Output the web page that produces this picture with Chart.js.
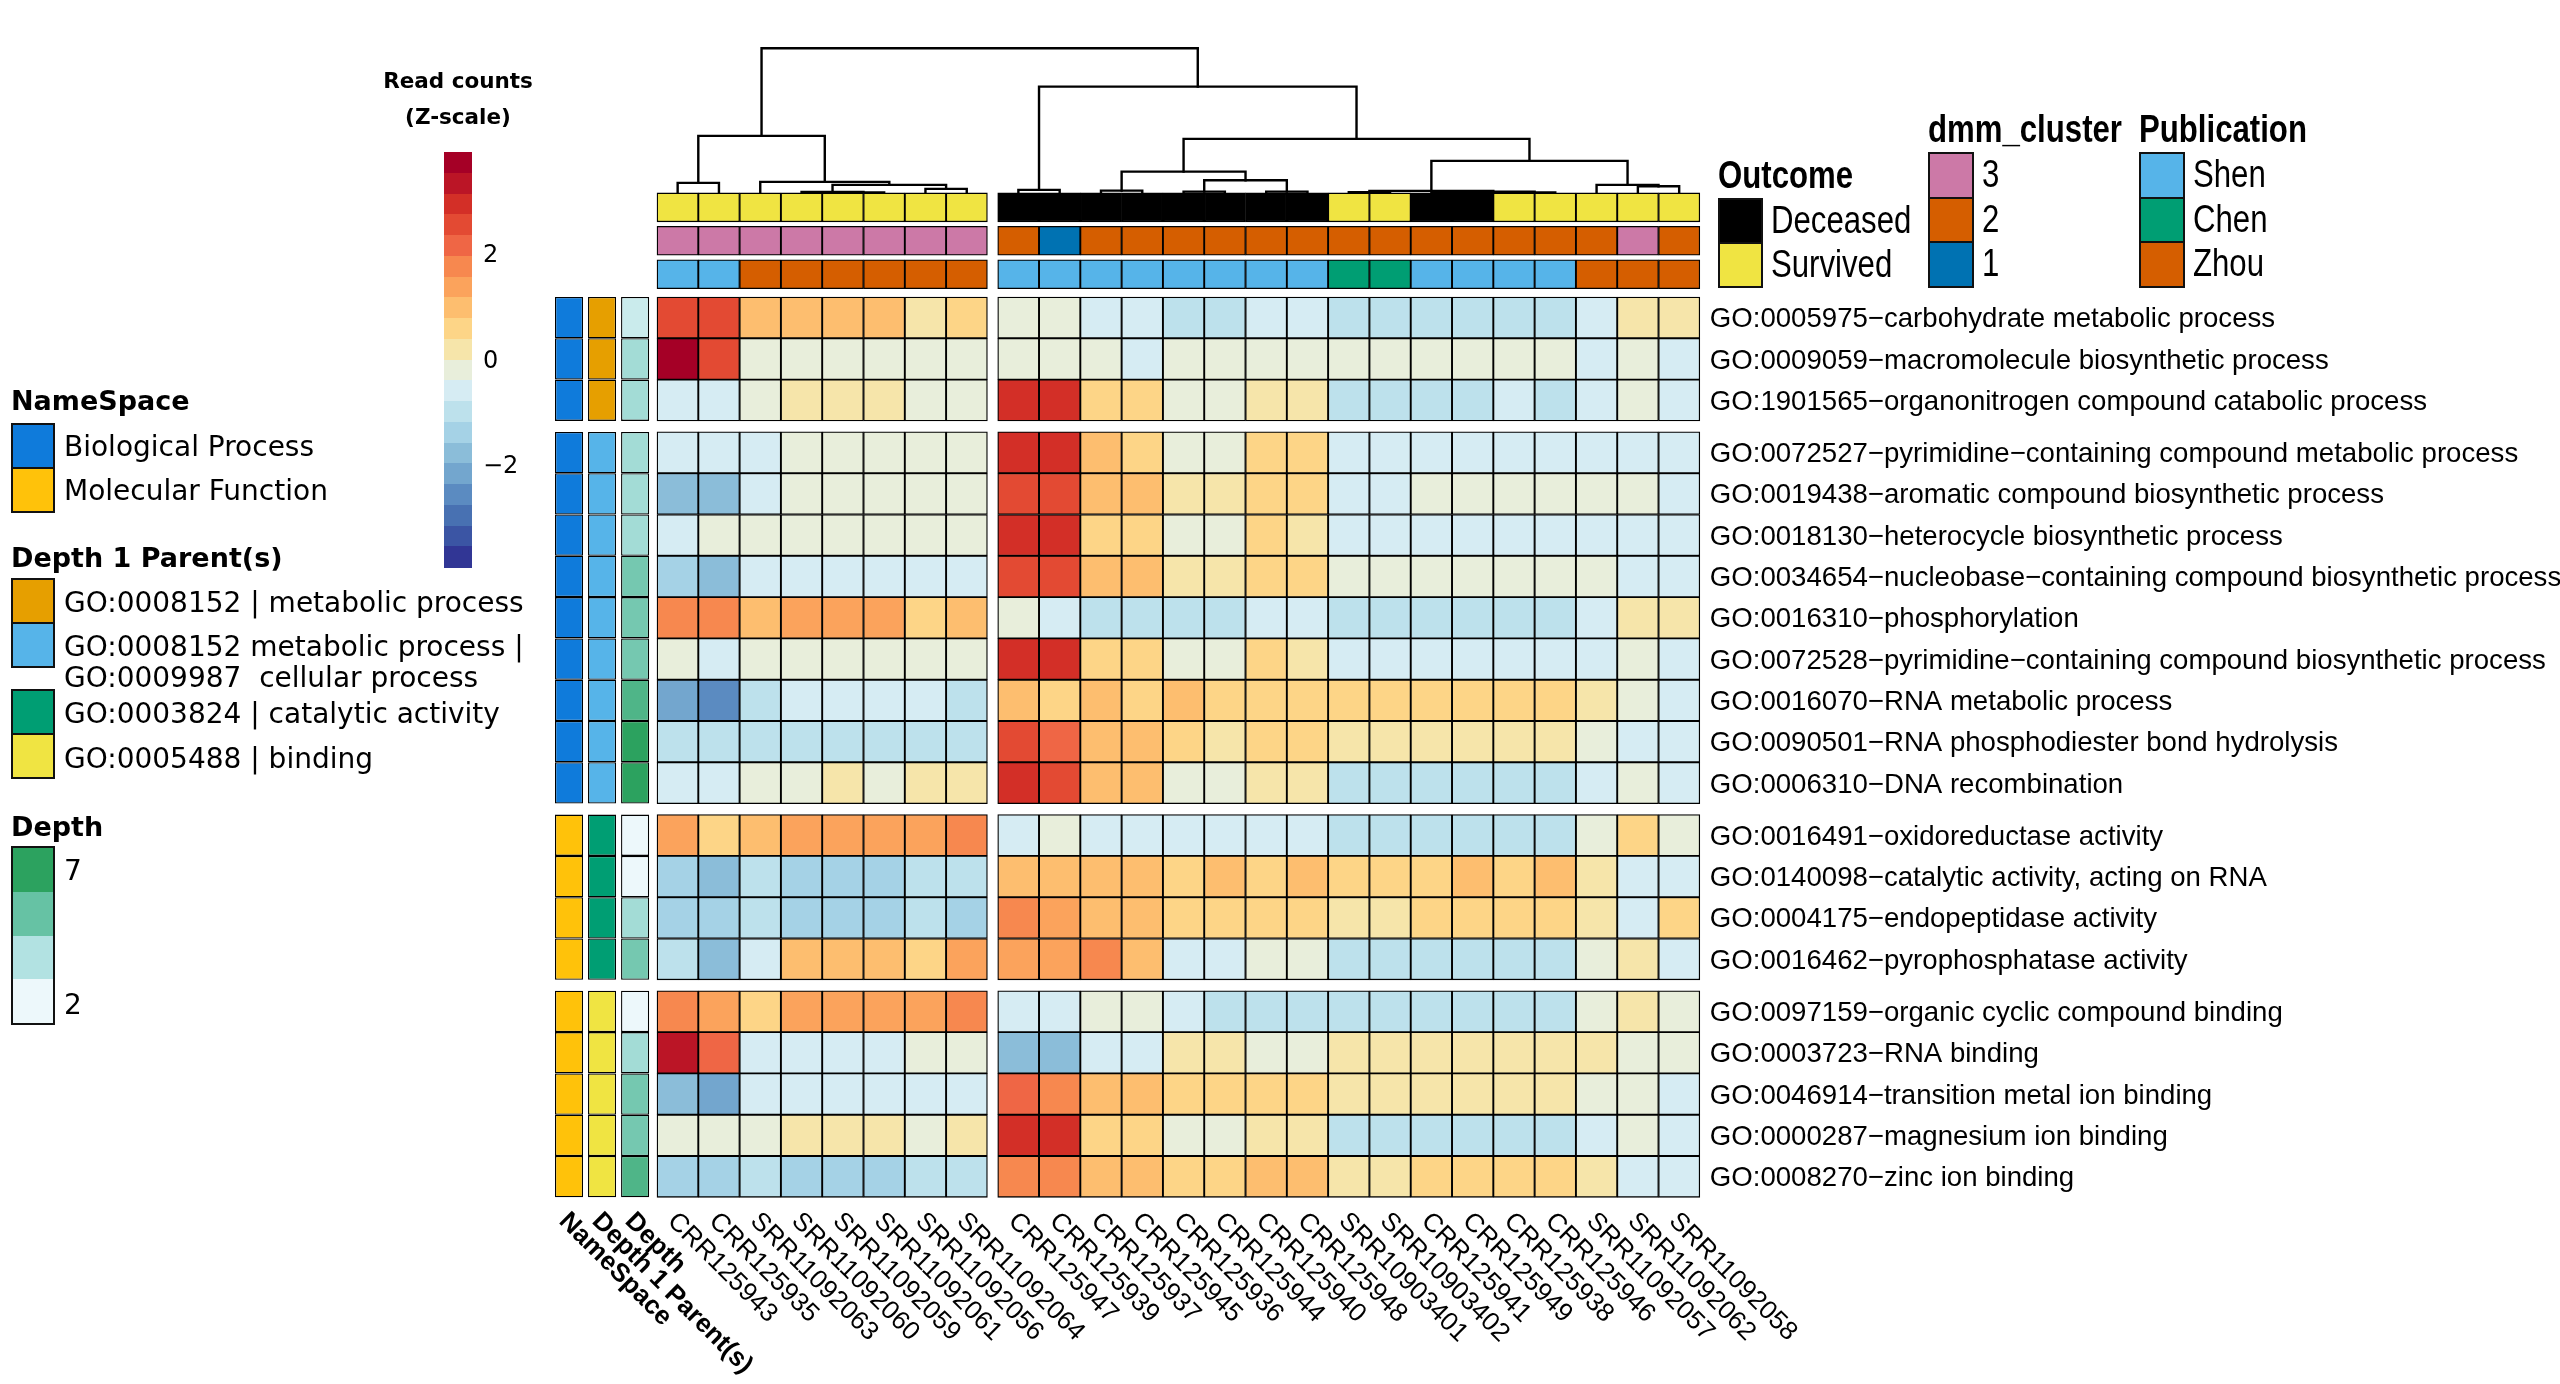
<!DOCTYPE html>
<html><head><meta charset="utf-8">
<script src="https://cdn.jsdelivr.net/npm/chart.js@4.4.1/dist/chart.umd.min.js"></script>
<style>
html,body{margin:0;padding:0;background:#fff;}
#wrap{position:relative;width:2560px;height:1384px;overflow:hidden;background:#fff;}
#c{position:absolute;left:0;top:0;}
.lg{position:absolute;white-space:pre;color:#000;line-height:1;}
.box{position:absolute;box-sizing:border-box;border:2px solid #111;}
</style></head>
<body>
<div id="wrap"><canvas id="c" width="2560" height="1384"></canvas></div>
<script>
// ---------------- DATA ----------------
const samples = ['CRR125943','CRR125935','SRR11092063','SRR11092060','SRR11092059','SRR11092061','SRR11092056','SRR11092064',
  'CRR125947','CRR125939','CRR125937','CRR125945','CRR125936','CRR125944','CRR125940','CRR125948','SRR10903401','SRR10903402',
  'CRR125941','CRR125949','CRR125938','CRR125946','SRR11092057','SRR11092062','SRR11092058'];
const colBlock = [0,0,0,0,0,0,0,0, 1,1,1,1,1,1,1,1,1,1,1,1,1,1,1,1,1];

const goTerms = [
  'GO:0005975\u2212carbohydrate metabolic process',
  'GO:0009059\u2212macromolecule biosynthetic process',
  'GO:1901565\u2212organonitrogen compound catabolic process',
  'GO:0072527\u2212pyrimidine\u2212containing compound metabolic process',
  'GO:0019438\u2212aromatic compound biosynthetic process',
  'GO:0018130\u2212heterocycle biosynthetic process',
  'GO:0034654\u2212nucleobase\u2212containing compound biosynthetic process',
  'GO:0016310\u2212phosphorylation',
  'GO:0072528\u2212pyrimidine\u2212containing compound biosynthetic process',
  'GO:0016070\u2212RNA metabolic process',
  'GO:0090501\u2212RNA phosphodiester bond hydrolysis',
  'GO:0006310\u2212DNA recombination',
  'GO:0016491\u2212oxidoreductase activity',
  'GO:0140098\u2212catalytic activity, acting on RNA',
  'GO:0004175\u2212endopeptidase activity',
  'GO:0016462\u2212pyrophosphatase activity',
  'GO:0097159\u2212organic cyclic compound binding',
  'GO:0003723\u2212RNA binding',
  'GO:0046914\u2212transition metal ion binding',
  'GO:0000287\u2212magnesium ion binding',
  'GO:0008270\u2212zinc ion binding'];
const rowGroup = [0,0,0, 1,1,1,1,1,1,1,1,1, 2,2,2,2, 3,3,3,3,3];

// Z-scaled read counts, one row per GO term, one value per sample
const zScores = [
  [2.5,2.5,1.0,1.0,1.0,1.0,0.2,0.6, -0.2,-0.2,-0.6,-0.6,-1.0,-1.0,-0.6,-0.6,-1.0,-1.0,-1.0,-1.0,-1.0,-1.0,-0.6,0.2,0.2],
  [3.7,2.5,-0.2,-0.2,-0.2,-0.2,-0.2,-0.2, -0.2,-0.2,-0.2,-0.6,-0.2,-0.2,-0.2,-0.2,-0.2,-0.2,-0.2,-0.2,-0.2,-0.2,-0.6,-0.2,-0.6],
  [-0.6,-0.6,-0.2,0.2,0.2,0.2,-0.2,-0.2, 2.9,2.9,0.6,0.6,-0.2,-0.2,0.2,0.2,-1.0,-1.0,-1.0,-1.0,-0.6,-1.0,-0.6,-0.2,-0.6],
  [-0.6,-0.6,-0.6,-0.2,-0.2,-0.2,-0.2,-0.2, 2.9,2.9,1.0,0.6,-0.2,-0.2,0.6,0.6,-0.6,-0.6,-0.6,-0.6,-0.6,-0.6,-0.6,-0.6,-0.6],
  [-1.8,-1.8,-0.6,-0.2,-0.2,-0.2,-0.2,-0.2, 2.5,2.5,1.0,1.0,0.2,0.2,0.6,0.6,-0.6,-0.6,-0.2,-0.2,-0.2,-0.2,-0.2,-0.2,-0.6],
  [-0.6,-0.2,-0.2,-0.2,-0.2,-0.2,-0.2,-0.2, 2.9,2.9,0.6,0.6,-0.2,-0.2,0.6,0.2,-0.6,-0.6,-0.6,-0.6,-0.6,-0.6,-0.6,-0.6,-0.6],
  [-1.4,-1.8,-0.6,-0.6,-0.6,-0.6,-0.6,-0.6, 2.5,2.5,1.0,1.0,0.2,0.2,0.6,0.6,-0.2,-0.2,-0.2,-0.2,-0.2,-0.2,-0.2,-0.6,-0.6],
  [1.8,1.8,1.0,1.4,1.4,1.4,0.6,1.0, -0.2,-0.6,-1.0,-1.0,-1.0,-1.0,-0.6,-0.6,-1.0,-1.0,-1.0,-1.0,-1.0,-1.0,-0.6,0.2,0.2],
  [-0.2,-0.6,-0.2,-0.2,-0.2,-0.2,-0.2,-0.2, 2.9,2.9,0.6,0.6,-0.2,-0.2,0.6,0.2,-0.6,-0.6,-0.6,-0.6,-0.6,-0.6,-0.6,-0.2,-0.6],
  [-2.2,-2.6,-1.0,-0.6,-0.6,-0.6,-0.6,-1.0, 1.0,0.6,1.0,0.6,1.0,0.6,0.6,0.6,0.6,0.6,0.6,0.6,0.6,0.6,0.2,-0.2,-0.6],
  [-1.0,-1.0,-1.0,-1.0,-1.0,-1.0,-1.0,-1.0, 2.5,2.2,1.0,1.0,0.6,0.2,0.6,0.6,0.2,0.2,0.2,0.2,0.2,0.2,-0.2,-0.6,-0.6],
  [-0.6,-0.6,-0.2,-0.2,0.2,-0.2,0.2,0.2, 2.9,2.5,1.0,1.0,-0.2,-0.2,0.2,0.2,-1.0,-1.0,-1.0,-1.0,-1.0,-1.0,-0.6,-0.2,-0.6],
  [1.4,0.6,1.0,1.4,1.4,1.4,1.4,1.8, -0.6,-0.2,-0.6,-0.6,-0.6,-0.6,-0.6,-0.6,-1.0,-1.0,-1.0,-1.0,-1.0,-1.0,-0.2,0.6,-0.2],
  [-1.4,-1.8,-1.0,-1.4,-1.4,-1.4,-1.0,-1.0, 1.0,1.0,1.0,1.0,0.6,1.0,0.6,1.0,0.6,0.6,0.6,1.0,0.6,1.0,0.2,-0.6,-0.6],
  [-1.4,-1.4,-1.0,-1.4,-1.4,-1.4,-1.0,-1.4, 1.8,1.4,1.0,1.0,0.6,0.6,0.6,0.6,0.2,0.2,0.6,0.6,0.6,0.6,0.2,-0.6,0.6],
  [-1.0,-1.8,-0.6,1.0,1.0,1.0,0.6,1.4, 1.4,1.4,1.8,1.0,-0.6,-0.6,-0.2,-0.2,-1.0,-1.0,-1.0,-1.0,-1.0,-1.0,-0.2,0.2,-0.6],
  [1.8,1.4,0.6,1.4,1.4,1.4,1.4,1.8, -0.6,-0.6,-0.2,-0.2,-0.6,-1.0,-1.0,-1.0,-1.0,-1.0,-1.0,-1.0,-1.0,-1.0,-0.2,0.2,-0.2],
  [3.3,2.2,-0.6,-0.6,-0.6,-0.6,-0.2,-0.2, -1.8,-1.8,-0.6,-0.6,0.2,0.2,-0.2,-0.2,0.2,0.2,0.2,0.2,0.2,0.2,0.2,-0.2,-0.2],
  [-1.8,-2.2,-0.6,-0.6,-0.6,-0.6,-0.6,-0.6, 2.2,1.8,1.0,1.0,0.6,0.6,0.6,0.6,0.2,0.2,0.2,0.2,0.2,0.2,-0.2,-0.2,-0.6],
  [-0.2,-0.2,-0.2,0.2,0.2,0.2,-0.2,0.2, 2.9,2.9,0.6,0.6,-0.2,-0.2,0.2,0.2,-1.0,-1.0,-1.0,-1.0,-1.0,-1.0,-0.6,-0.2,-0.6],
  [-1.4,-1.4,-1.0,-1.4,-1.4,-1.4,-1.0,-1.0, 1.8,1.8,1.0,1.0,0.6,0.6,1.0,1.0,0.2,0.2,0.6,0.6,0.6,0.6,0.2,-0.6,-0.6]
];

// column annotations
const outcome = ['Survived','Survived','Survived','Survived','Survived','Survived','Survived','Survived',
  'Deceased','Deceased','Deceased','Deceased','Deceased','Deceased','Deceased','Deceased','Survived','Survived',
  'Deceased','Deceased','Survived','Survived','Survived','Survived','Survived'];
const dmmCluster = ['3','3','3','3','3','3','3','3', '2','1','2','2','2','2','2','2','2','2','2','2','2','2','2','3','2'];
const publication = ['Shen','Shen','Zhou','Zhou','Zhou','Zhou','Zhou','Zhou',
  'Shen','Shen','Shen','Shen','Shen','Shen','Shen','Shen','Chen','Chen','Shen','Shen','Shen','Shen','Zhou','Zhou','Zhou'];

// row annotations
const nameSpace = ['Biological Process','Biological Process','Biological Process','Biological Process','Biological Process',
  'Biological Process','Biological Process','Biological Process','Biological Process','Biological Process','Biological Process',
  'Biological Process','Molecular Function','Molecular Function','Molecular Function','Molecular Function','Molecular Function',
  'Molecular Function','Molecular Function','Molecular Function','Molecular Function'];
const depth1Parent = ['metabolic','metabolic','metabolic',
  'metabolic|cellular','metabolic|cellular','metabolic|cellular','metabolic|cellular','metabolic|cellular',
  'metabolic|cellular','metabolic|cellular','metabolic|cellular','metabolic|cellular',
  'catalytic','catalytic','catalytic','catalytic',
  'binding','binding','binding','binding','binding'];
const depth = [3,4,4, 4,4,4,5,5,5,6,7,7, 2,2,4,5, 2,4,5,5,6];

// column dendrogram (hclust style: negative = sample number, positive = earlier merge; then height)
const colMerges = [
  [-5,-6,0.05],[-4,1,0.10],[-7,-8,0.40],[2,3,0.80],[-1,-2,1.00],[-3,4,1.10],[5,6,5.70],
  [-9,-10,0.30],[-11,-12,0.23],[-13,-14,0.13],[-15,-16,0.13],[10,11,1.27],[9,12,2.13],
  [-17,-18,0.07],[-19,-20,0.05],[-21,-22,0.05],[15,16,0.12],[14,17,0.20],[-24,-25,0.67],
  [-23,19,0.80],[18,20,3.20],[13,21,5.40],[8,22,10.63],[7,23,14.47]
];

const zTicks = [2, 0, -2];
const depthTicks = [7, 2];

// ---------------- STYLES / COLOUR MAPS ----------------
const Z_MAX = 3.94;
const zPalette = ['#a50026','#bb1526','#d32f27','#e34a33','#ef6645','#f7884f','#fba35c','#fdbe6f','#fdd587','#f6e5aa',
  '#e8eedb','#d6ecf3','#bde1ec','#a5d2e6','#8bbdd9','#73a6ce','#5b8bc1','#4871b2','#3b55a4','#313695'];
function zColor(z){
  const step = 2 * Z_MAX / zPalette.length;
  let k = Math.floor((Z_MAX - z) / step);
  k = Math.max(0, Math.min(zPalette.length - 1, k));
  return zPalette[k];
}
const outcomeColors = {Deceased:'#000000', Survived:'#f0e442'};
const dmmColors = {'3':'#cc79a7','2':'#d55e00','1':'#0072b2'};
const pubColors = {Shen:'#56b4e9', Chen:'#009e73', Zhou:'#d55e00'};
const nsColors = {'Biological Process':'#0f7bdb','Molecular Function':'#ffc20a'};
const parentColors = {'metabolic':'#e69f00','metabolic|cellular':'#56b4e9','catalytic':'#009e73','binding':'#f0e442'};
const parentLabels = {'metabolic':'GO:0008152 | metabolic process',
  'metabolic|cellular':'GO:0008152 metabolic process |\nGO:0009987  cellular process',
  'catalytic':'GO:0003824 | catalytic activity','binding':'GO:0005488 | binding'};
const depthStops = [[2,[237,248,251]],[3.667,[178,226,226]],[5.333,[102,194,164]],[7,[44,162,95]]];
function depthColor(v){
  for (let i=0;i<depthStops.length-1;i++){
    const [a,ca]=depthStops[i],[b,cb]=depthStops[i+1];
    if (v<=b){ const t=(v-a)/(b-a); const c=ca.map((x,k)=>Math.round(x+(cb[k]-x)*t)); return `rgb(${c[0]},${c[1]},${c[2]})`; }
  }
  return 'rgb(44,162,95)';
}

// ---------------- LAYOUT ----------------
const W = 2560, H = 1384, CELL = 41.3, GRID_LEFT = 657, GRID_TOP = 297;
const COL_GAP = 0.25, ROW_GAP = 11 / CELL;
const colPos = j => j + colBlock[j] * COL_GAP;
const rowTop = i => i + rowGroup[i] * ROW_GAP;
const X_MIN = -(GRID_LEFT + CELL / 2) / CELL, X_MAX = X_MIN + W / CELL;
const Y_MIN = -GRID_TOP / CELL, Y_MAX = Y_MIN + H / CELL;
const TRACK_H = 0.7, TRACK_STEP = 0.81, TRACK_OFF = 0.2;
const DENDRO_PX = 10;
const DENDRO_BASE = GRID_TOP - (TRACK_OFF + 2 * TRACK_STEP + TRACK_H) * CELL;
const YD_MAX = DENDRO_BASE / DENDRO_PX, YD_MIN = YD_MAX - H / DENDRO_PX;

const datasets = [];
const cellStyle = {type:'bar', grouped:false, barPercentage:1, categoryPercentage:1, borderColor:'#000',
  borderWidth:1.3, borderSkipped:false, xAxisID:'x', yAxisID:'y'};

zScores.forEach((row,i) => datasets.push({...cellStyle, label:goTerms[i],
  data: row.map((z,j)=>({x:colPos(j), y:[rowTop(i), rowTop(i)+1]})),
  backgroundColor: row.map(zColor)}));

const colTracks = [
  {name:'Outcome', values:outcome, colors:outcomeColors},
  {name:'dmm_cluster', values:dmmCluster, colors:dmmColors},
  {name:'Publication', values:publication, colors:pubColors}];
colTracks.forEach((t,k) => {
  const bottom = -(TRACK_OFF + (colTracks.length-1-k) * TRACK_STEP);
  datasets.push({...cellStyle, label:t.name,
    data: t.values.map((v,j)=>({x:colPos(j), y:[bottom-TRACK_H, bottom]})),
    backgroundColor: t.values.map(v=>t.colors[v])});
});

const rowTracks = [
  {name:'NameSpace', values:nameSpace, color:v=>nsColors[v]},
  {name:'Depth 1 Parent(s)', values:depth1Parent, color:v=>parentColors[v]},
  {name:'Depth', values:depth, color:depthColor}];
const rowTrackX = k => -0.5 - 0.19 - 0.34 - (rowTracks.length-1-k) * 0.8;
rowTracks.forEach((t,k) => {
  datasets.push({...cellStyle, xAxisID:'xa', barPercentage:0.85, label:t.name,
    data: t.values.map((v,i)=>({x:rowTrackX(k), y:[rowTop(i), rowTop(i)+1]})),
    backgroundColor: t.values.map(t.color)});
});

const nodeX = [], nodeH = [];
const childX = c => c < 0 ? colPos(-c-1) : nodeX[c-1];
const childH = c => c < 0 ? 0 : nodeH[c-1];
colMerges.forEach(([a,b,h]) => {
  const xa = childX(a), xb = childX(b);
  nodeX.push((xa+xb)/2); nodeH.push(h);
  datasets.push({type:'line', xAxisID:'x', yAxisID:'yd', label:'dendrogram',
    data:[{x:xa,y:childH(a)},{x:xa,y:h},{x:xb,y:h},{x:xb,y:childH(b)}],
    borderColor:'#000', borderWidth:2.4, pointRadius:0, fill:false, tension:0,
    borderCapStyle:'square', borderJoinStyle:'miter'});
});

const textPlugin = {
  id:'heatmapText',
  afterDraw(chart){
    const {ctx, scales} = chart;
    const sx = scales.x, sy = scales.y, sxa = scales.xa;
    ctx.save();
    ctx.fillStyle = '#000';
    ctx.textAlign = 'left'; ctx.textBaseline = 'middle';
    ctx.font = '27.6px "Liberation Sans", Arial, sans-serif';
    const lx = sx.getPixelForValue(colPos(samples.length-1) + 0.5) + 10;
    goTerms.forEach((t,i) => ctx.fillText(t, lx, sy.getPixelForValue(rowTop(i)+0.5) + 2));
    const yb = sy.getPixelForValue(rowTop(goTerms.length-1)+1) + 20;
    ctx.font = '26px "Liberation Sans", Arial, sans-serif';
    samples.forEach((s,j) => {
      ctx.save(); ctx.translate(sx.getPixelForValue(colPos(j)) - 6, yb); ctx.rotate(Math.PI/4);
      ctx.fillText(s, 0, 0); ctx.restore();
    });
    ctx.font = 'bold 26px "Liberation Sans", Arial, sans-serif';
    rowTracks.forEach((t,k) => {
      ctx.save(); ctx.translate(sxa.getPixelForValue(rowTrackX(k)) - 6, yb); ctx.rotate(Math.PI/4);
      ctx.fillText(t.name, 0, 0); ctx.restore();
    });
    ctx.restore();
  }
};

new Chart(document.getElementById('c'), {
  type:'bar',
  data:{datasets},
  options:{
    responsive:false, animation:false, devicePixelRatio:1,
    layout:{padding:0},
    plugins:{legend:{display:false}, tooltip:{enabled:false}},
    scales:{
      x:{type:'linear', min:X_MIN, max:X_MAX, display:false, offset:false, grid:{offset:false}},
      xa:{type:'linear', min:X_MIN, max:X_MAX, display:false, offset:false, grid:{offset:false}},
      y:{type:'linear', min:Y_MIN, max:Y_MAX, reverse:true, display:false},
      yd:{type:'linear', min:YD_MIN, max:YD_MAX, display:false}
    }
  },
  plugins:[textPlugin]
});

// ---------------- LEGENDS (HTML) ----------------
const wrap = document.getElementById('wrap');
function addText(txt, x, y, font, center, narrow){
  const d = document.createElement('div'); d.className='lg'; d.textContent = txt;
  d.style.left = x+'px'; d.style.top = y+'px'; d.style.font = font;
  d.style.transformOrigin = 'left center';
  d.style.transform = center ? 'translate(-50%,-50%)' : ('translateY(-50%)' + (narrow ? ' scaleX(0.82)' : ''));
  if (center) d.style.textAlign = 'center';
  wrap.appendChild(d); return d;
}
function addBox(x, y, w, h, color, border){
  const d = document.createElement('div'); d.className='box';
  d.style.left=x+'px'; d.style.top=y+'px'; d.style.width=w+'px'; d.style.height=h+'px';
  d.style.background=color; if (!border) d.style.border='none';
  wrap.appendChild(d); return d;
}
const VB = 'bold 21.5px "DejaVu Sans", Verdana, sans-serif';
const VN = '28px "DejaVu Sans", Verdana, sans-serif';
const VT = 'bold 27px "DejaVu Sans", Verdana, sans-serif';
const NN = '38px "Liberation Sans", Arial, sans-serif';
const NB = 'bold 38px "Liberation Sans", Arial, sans-serif';

// colour bar
addText('Read counts', 458, 80, VB, true);
addText('(Z-scale)', 458, 116, VB, true);
const CB = {x:444, y:152, w:28, h:415};
zPalette.forEach((c,k) => addBox(CB.x, CB.y + k*CB.h/zPalette.length, CB.w, CB.h/zPalette.length + 0.6, c, false));
zTicks.forEach(v => addText(v < 0 ? '\u2212' + Math.abs(v) : String(v), CB.x + CB.w + 11,
  CB.y + (Z_MAX - v) / (2*Z_MAX) * CB.h, '24px "DejaVu Sans", Verdana, sans-serif'));

// NameSpace
addText('NameSpace', 11, 400, VT);
Object.keys(nsColors).forEach((k,i) => { addBox(11, 423 + i*44, 44, 46, nsColors[k], true); addText(k, 64, 446 + i*44, VN); });
// Depth 1 Parent(s)
addText('Depth 1 Parent(s)', 11, 557, VT);
const parentBoxY = [578, 622, 689, 733];
const parentTextY = [602, 662, 713, 758];
Object.keys(parentColors).forEach((k,i) => {
  addBox(11, parentBoxY[i], 44, 46, parentColors[k], true);
  const t = addText(parentLabels[k], 64, parentTextY[i], VN); t.style.lineHeight = '31px';
});
// Depth
addText('Depth', 11, 826, VT);
const dBox = addBox(11, 846, 44, 179, '#fff', true);
['#2ca25f','#66c2a4','#b2e2e2','#edf8fb'].forEach((c,k) => {
  const s = document.createElement('div');
  s.style.cssText = `position:absolute;left:0;right:0;top:${k*25}%;height:25%;background:${c}`;
  dBox.appendChild(s);
});
addText(String(depthTicks[0]), 64, 870, VN);
addText(String(depthTicks[1]), 64, 1004, VN);

// top-right legends
addText('Outcome', 1718, 175, NB, false, true);
Object.keys(outcomeColors).forEach((k,i) => { addBox(1718, 198 + i*44, 45, 46, outcomeColors[k], true); addText(k, 1771, 220 + i*44, NN, false, true); });
addText('dmm_cluster', 1928, 129, NB, false, true);
Object.keys(dmmColors).sort((a,b)=>b-a).forEach((k,i) => { addBox(1928, 152 + i*44.7, 46, 46.5, dmmColors[k], true); addText(k, 1982, 174 + i*44.7, NN, false, true); });
addText('Publication', 2139, 129, NB, false, true);
Object.keys(pubColors).forEach((k,i) => { addBox(2139, 152 + i*44.7, 46, 46.5, pubColors[k], true); addText(k, 2193, 174 + i*44.7, NN, false, true); });
</script>
</body></html>
